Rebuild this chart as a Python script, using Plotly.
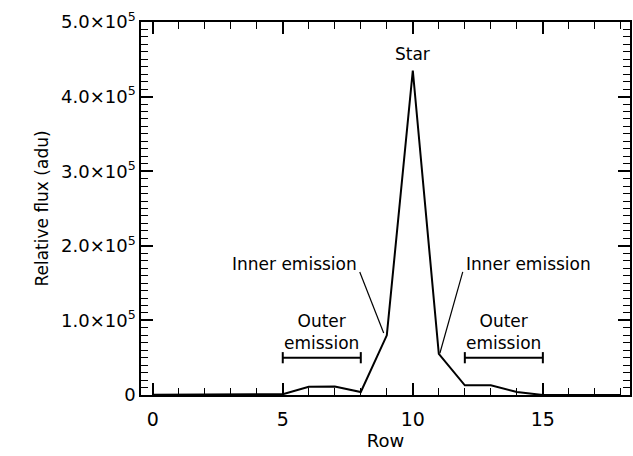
import plotly.graph_objects as go

# Data
rows = list(range(0, 19))
flux = [500, 500, 0, 0, 500, 1000, 11000, 11500, 4000, 80000, 435000,
        55000, 13000, 13000, 4000, 0, 0, 0, 0]

ytick_vals = [0, 1e5, 2e5, 3e5, 4e5, 5e5]
ytick_text = ["0", "1.0×10<sup>5</sup>", "2.0×10<sup>5</sup>", "3.0×10<sup>5</sup>",
              "4.0×10<sup>5</sup>", "5.0×10<sup>5</sup>"]
xtick_vals = [0, 5, 10, 15]

# Annotation data
outer_left = [5, 8]
outer_right = [12, 15]
outer_level = 50000
inner_left_line = ([7.96, 8.88], [165000, 83000])
inner_right_line = ([11.92, 11.04], [165000, 56000])
star_pos = (10, 457000)

FONT = "DejaVu Sans"
XR = [-0.45, 18.35]
YR = [0, 5e5]

fig = go.Figure()
fig.add_trace(go.Scatter(x=rows, y=flux, mode="lines",
                         line=dict(color="black", width=2), showlegend=False))

for seg in (outer_left, outer_right):
    fig.add_trace(go.Scatter(x=seg, y=[outer_level] * 2, mode="lines+markers",
                             line=dict(color="black", width=2),
                             marker=dict(symbol="line-ns-open", size=8,
                                         line=dict(color="black", width=2)),
                             showlegend=False))

for lx, ly in (inner_left_line, inner_right_line):
    fig.add_trace(go.Scatter(x=lx, y=ly, mode="lines",
                             line=dict(color="black", width=1.2), showlegend=False))

# invisible trace for mirror axes
fig.add_trace(go.Scatter(x=XR, y=YR, xaxis="x2", yaxis="y2", mode="markers",
                         marker=dict(opacity=0), showlegend=False, hoverinfo="skip"))

ann = []
ann.append(dict(x=star_pos[0], y=star_pos[1], text="Star", showarrow=False,
                xanchor="center", yanchor="middle"))
ann.append(dict(x=7.95, y=175000, text="Inner emission", showarrow=False,
                xanchor="right", yanchor="middle"))
ann.append(dict(x=11.95, y=176000, text="Inner emission", showarrow=False,
                xanchor="left", yanchor="middle"))
ann.append(dict(x=(outer_left[0] + outer_left[1]) / 2, y=outer_level + 3000,
                text="Outer<br>emission", showarrow=False, xanchor="center",
                yanchor="bottom"))
ann.append(dict(x=(outer_right[0] + outer_right[1]) / 2, y=outer_level + 3000,
                text="Outer<br>emission", showarrow=False, xanchor="center",
                yanchor="bottom"))
for a in ann:
    a["font"] = dict(family=FONT, size=17, color="black")
    a["xref"] = "x"
    a["yref"] = "y"

minor_x = dict(dtick=1, ticks="inside", ticklen=7, tickcolor="black", tickwidth=1.3)
minor_y = dict(dtick=1e4, ticks="inside", ticklen=7, tickcolor="black", tickwidth=1.3)
major = dict(ticks="inside", ticklen=12, tickwidth=1.6, tickcolor="black", showline=True,
             linecolor="black", linewidth=1.5, showgrid=False, zeroline=False)

fig.update_layout(
    width=633, height=456,
    margin=dict(l=141, r=3, t=22, b=61),
    paper_bgcolor="white", plot_bgcolor="white", showlegend=False,
    font=dict(family=FONT, size=16, color="black"),
    annotations=ann,
    xaxis=dict(range=XR, tickvals=xtick_vals, minor=minor_x, ticklabelstandoff=6,
               title=dict(text="Row", font=dict(size=18), standoff=6),
               tickfont=dict(size=19), **major),
    yaxis=dict(range=YR, tickvals=ytick_vals, ticktext=ytick_text, minor=minor_y,
               title=dict(text="Relative flux (adu)", font=dict(size=17), standoff=8),
               tickfont=dict(size=18), **major),
    xaxis2=dict(range=XR, overlaying="x", side="top", anchor="y2", tickvals=xtick_vals,
                showticklabels=False, minor=minor_x, **major),
    yaxis2=dict(range=YR, overlaying="y", side="right", anchor="x2", tickvals=ytick_vals,
                showticklabels=False, minor=minor_y, **major),
)

fig.write_html("out.html")
